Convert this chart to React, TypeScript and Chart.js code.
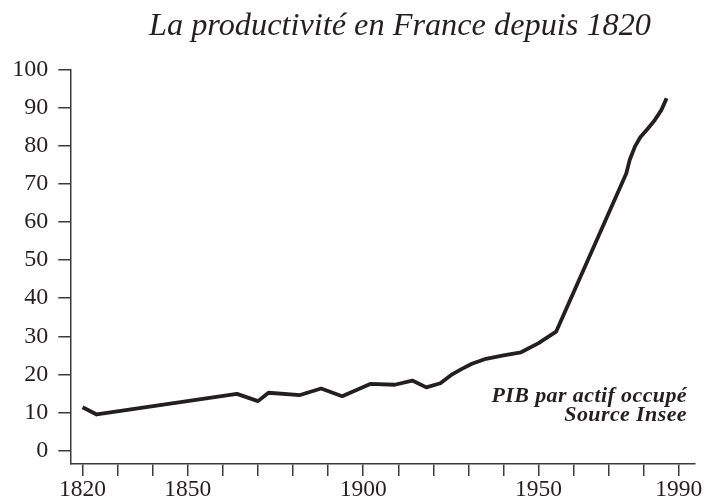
import React, { useEffect, useRef } from "react";
import { Chart, registerables } from "chart.js";

Chart.register(...registerables);

// Data (year, GDP per employed person index)
const years = [
  1820, 1824, 1864, 1870, 1873, 1882, 1888, 1894, 1902, 1909, 1914, 1918,
  1922, 1925, 1928, 1931, 1935, 1940, 1945, 1950, 1955, 1975, 1976, 1977.5,
  1979, 1981, 1983, 1985, 1986.5,
];
const productivity = [
  11.4, 9.5, 14.9, 13.0, 15.2, 14.6, 16.3, 14.3, 17.5, 17.3, 18.4, 16.6,
  17.7, 19.8, 21.4, 22.8, 24.1, 25.0, 25.8, 28.2, 31.2, 72.7, 76.3, 79.8,
  82.2, 84.3, 86.5, 89.3, 92.4,
];
const xTickYears = [
  1820, 1830, 1840, 1850, 1860, 1870, 1880, 1890, 1900, 1910, 1920, 1930,
  1940, 1950, 1960, 1970, 1980, 1990,
];
const xLabelYears = [1820, 1850, 1900, 1950, 1990];
const yTickValues = [0, 10, 20, 30, 40, 50, 60, 70, 80, 90, 100];

const titleText = "La productivité en France depuis 1820";
const noteLines = ["PIB par actif occupé", "Source Insee"];

const INK = "#231f20";
const AXIS = "#3a3a3a";
const SERIF = '"Liberation Serif", "Times New Roman", serif';

export default function App() {
  const canvasRef = useRef<HTMLCanvasElement | null>(null);

  useEffect(() => {
    const canvas = canvasRef.current;
    if (!canvas) return;

    const textPlugin = {
      id: "textPlugin",
      afterDraw(chart: any) {
        const ctx = chart.ctx;
        ctx.save();
        ctx.fillStyle = INK;
        ctx.textBaseline = "alphabetic";
        ctx.font = `italic 32.3px ${SERIF}`;
        ctx.textAlign = "center";
        ctx.fillText(titleText, 400, 35);
        ctx.font = `italic bold 22px ${SERIF}`;
        try {
          (ctx as any).letterSpacing = "0.4px";
        } catch (e) {}
        ctx.textAlign = "right";
        ctx.fillText(noteLines[0], 687, 402);
        ctx.fillText(noteLines[1], 687, 421);
        ctx.restore();
      },
    };

    const chart = new Chart(canvas, {
      type: "line",
      data: {
        datasets: [
          {
            data: years.map((y, i) => ({ x: y, y: productivity[i] })),
            borderColor: INK,
            borderWidth: 3.8,
            pointRadius: 0,
            tension: 0,
            borderJoinStyle: "round",
            borderCapStyle: "butt",
            fill: false,
          },
        ],
      },
      options: {
        animation: false,
        responsive: false,
        devicePixelRatio: 1,
        layout: { padding: { top: 69.3, right: 11.7, left: 0, bottom: 0 } },
        plugins: {
          legend: { display: false },
          title: { display: false },
          tooltip: { enabled: false },
        },
        scales: {
          x: {
            type: "linear",
            min: 1816.6,
            max: 1994.4,
            afterBuildTicks: (axis: any) => {
              axis.ticks = xTickYears.map((v) => ({ value: v }));
            },
            afterFit: (scale: any) => {
              scale.height = 501 - 463.3;
            },
            ticks: {
              autoSkip: false,
              maxRotation: 0,
              padding: 0,
              color: INK,
              font: { family: SERIF, size: 23.5 },
              callback: (v: any) =>
                xLabelYears.includes(Number(v)) ? String(v) : "",
            },
            grid: {
              drawOnChartArea: false,
              drawTicks: true,
              tickLength: 12.7,
              color: AXIS,
              lineWidth: 1.5,
            },
            border: { display: true, color: AXIS, width: 1.5 },
          },
          y: {
            type: "linear",
            min: -3.3,
            max: 100,
            afterBuildTicks: (axis: any) => {
              axis.ticks = yTickValues.map((v) => ({ value: v }));
            },
            afterFit: (scale: any) => {
              scale.width = 70.7;
            },
            ticks: {
              autoSkip: false,
              padding: 10,
              color: INK,
              font: { family: SERIF, size: 24 },
            },
            grid: {
              drawOnChartArea: false,
              drawTicks: true,
              tickLength: 12.4,
              color: AXIS,
              lineWidth: 1.5,
            },
            border: { display: true, color: AXIS, width: 1.5 },
          },
        },
      } as any,
      plugins: [textPlugin],
    });

    return () => chart.destroy();
  }, []);

  return (
    <div style={{ position: "absolute", left: 0, top: 0, width: 706, height: 501, background: "#fff" }}>
      <canvas ref={canvasRef} width={706} height={501} />
    </div>
  );
}
